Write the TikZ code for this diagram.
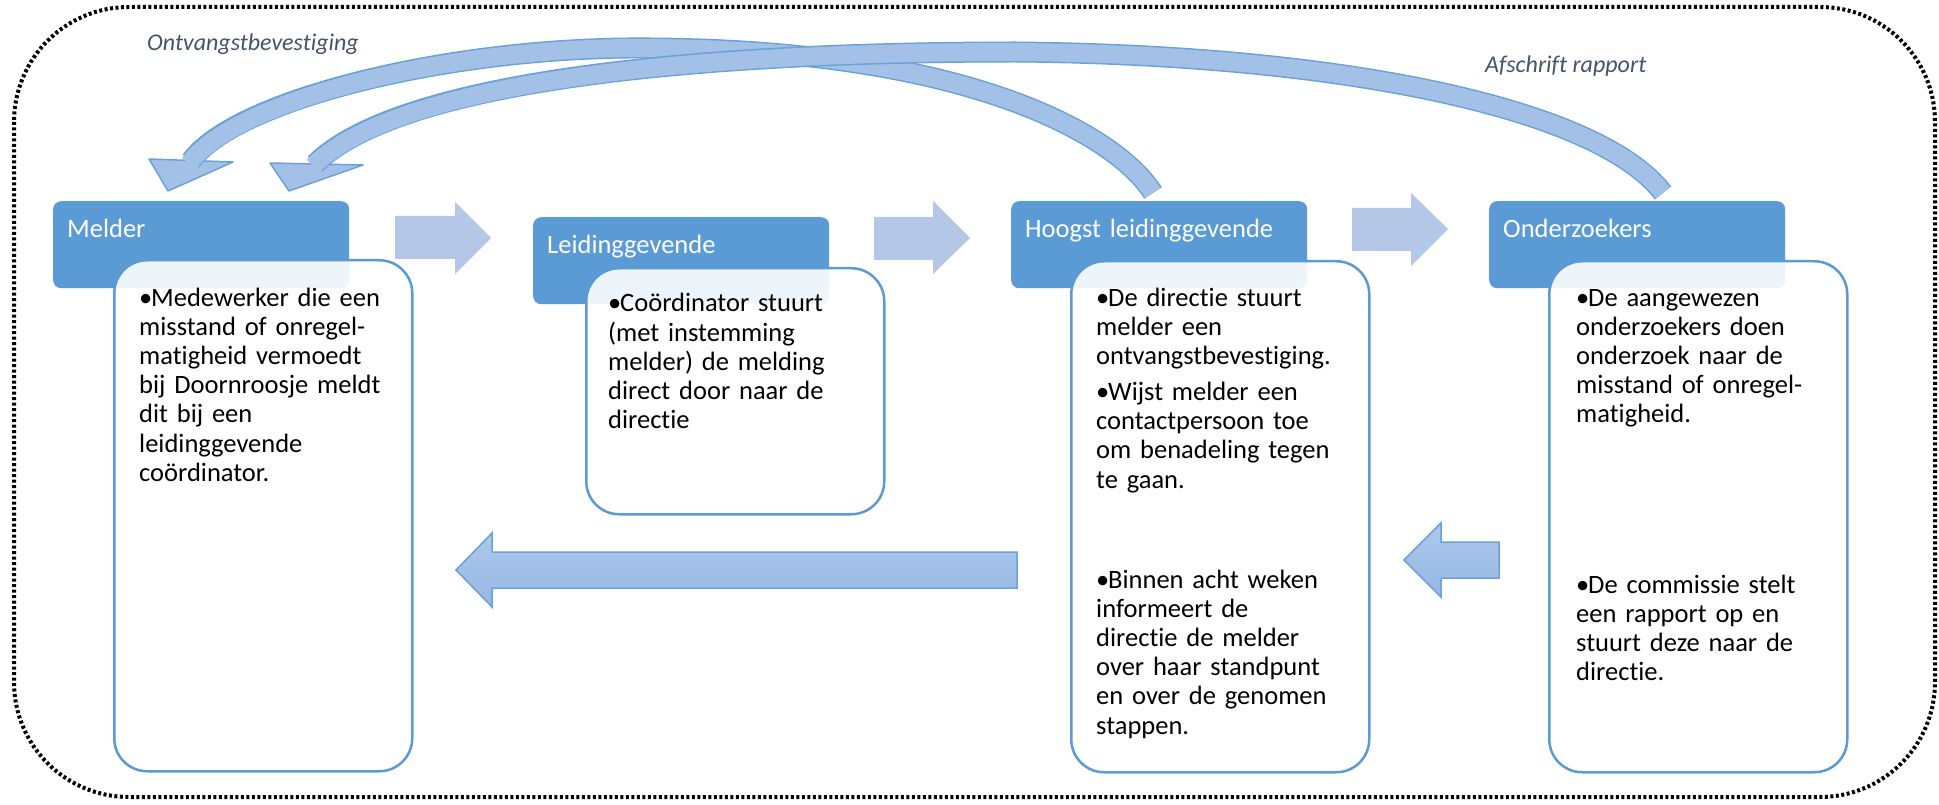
\documentclass[tikz,border=0pt]{standalone}
\usepackage{fontspec}
\setmainfont{Carlito}[Ligatures=NoCommon]
\usepackage{tikz}

\definecolor{kopblauw}{HTML}{5B9BD5}
\definecolor{pijllicht}{HTML}{B4C7E7}
\definecolor{pijlboven}{HTML}{ADC8EB}
\definecolor{pijlonder}{HTML}{95B8E3}
\definecolor{boogvul}{HTML}{A3C1E7}
\definecolor{boogrand}{HTML}{6AA2D8}
\definecolor{labelgrijs}{HTML}{44546A}

\newcommand\opsom[1]{\hangindent=12pt\hangafter=1\noindent\makebox[12pt][l]{\textbullet}#1\par}

\tikzset{
  kop/.style={fill=kopblauw, rounded corners=8pt, text=white, anchor=north west,
    inner xsep=14pt, inner ysep=0pt, text width=268pt, align=left,
    text height=36pt, text depth=51pt, font=\fontsize{26.5}{29}\selectfont},
  vak/.style={draw=kopblauw, line width=2.5pt, fill=white, fill opacity=0.9,
    rounded corners=33pt, anchor=north west, inner sep=0pt, minimum width=298pt},
  tekst/.style={anchor=base west, inner sep=0pt, text width=285pt, align=left,
    font=\fontsize{26.5}{29.2}\selectfont},
  vooruit/.style={fill=pijllicht},
  terug/.style={top color=pijlboven, bottom color=pijlonder, draw=boogrand, line width=1.5pt},
  boogkop/.style={fill=boogvul, draw=boogrand, line width=1.5pt, line join=round},
  boogband/.style={draw=boogvul, line width=18pt, shorten >=-3pt,
    preaction={draw=boogrand, line width=21pt, shorten >=0pt}},
  kader/.style={draw=black, line width=4pt, dash pattern=on 3pt off 2.5pt, rounded corners=115pt},
  bijschrift/.style={anchor=base west, inner sep=0pt, text=labelgrijs,
    font=\fontsize{24}{28}\selectfont\itshape}
}

\begin{document}
\begin{tikzpicture}[x=1pt, y=-1pt]
\useasboundingbox (0,0) rectangle (1939,805);
\draw[kader] (14,7) rectangle (1935,797);

% koppen
\node[kop] (melder) at (53,201) {Melder};
\node[kop] (leiding) at (533,217) {Leidinggevende};
\node[kop] (hoogst) at (1011,201) {Hoogst leidinggevende};
\node[kop] (onderzoek) at (1489,201) {Onderzoekers};

% vakken
\node[vak, minimum height=511pt] (meldervak) at (113,259) {};
\node[vak, minimum height=246pt] (leidingvak) at (585,267) {};
\node[vak, minimum height=511pt] (hoogstvak) at (1070,260) {};
\node[vak, minimum height=511pt] (onderzoekvak) at (1548,260) {};

\node[tekst] (meldertekst) at (139,306) {\opsom{Medewerker die een\\ misstand of onregel-\\ matigheid vermoedt\\ bij Doornroosje meldt\\ dit bij een\\ leidinggevende\\ coördinator.}};
\node[tekst] (leidingtekst) at (608,312) {\opsom{Coördinator stuurt\\ (met instemming\\ melder) de melding\\ direct door naar de\\ directie}};
\node[tekst] (hoogsttekst) at (1096,306) {\opsom{De directie stuurt\\ melder een\\ ontvangstbevestiging.}\vspace{7pt}\opsom{Wijst melder een\\ contactpersoon toe\\ om benadeling tegen\\ te gaan.}};
\node[tekst] (hoogsttekstb) at (1096,588) {\opsom{Binnen acht weken\\ informeert de\\ directie de melder\\ over haar standpunt\\ en over de genomen\\ stappen.}};
\node[tekst] (onderzoektekst) at (1576,306) {\opsom{De aangewezen\\ onderzoekers doen\\ onderzoek naar de\\ misstand of onregel-\\ matigheid.}};
\node[tekst] (onderzoektekstb) at (1576,593) {\opsom{De commissie stelt\\ een rapport op en\\ stuurt deze naar de\\ directie.}};

% pijlen vooruit
\fill[vooruit] (395,216) -- (455,216) -- (455,202) -- (491,238) -- (455,274) -- (455,259) -- (395,259) -- cycle;
\fill[vooruit] (874,217) -- (933,217) -- (933,201) -- (970,238) -- (933,274) -- (933,260) -- (874,260) -- cycle;
\fill[vooruit] (1352,208) -- (1411,208) -- (1411,193) -- (1448,229) -- (1411,266) -- (1411,251) -- (1352,251) -- cycle;

% pijlen terug
\filldraw[terug] (1017,552) -- (492,552) -- (492,533) -- (456,570) -- (492,607) -- (492,588) -- (1017,588) -- cycle;
\filldraw[terug] (1499,542) -- (1441,542) -- (1441,523) -- (1404,560) -- (1441,597) -- (1441,578) -- (1499,578) -- cycle;

% bogen
\coordinate (ontvbegin) at (1153,193);
\coordinate (ontveind) at (191,161);
\coordinate (afschbegin) at (1663,193);
\coordinate (afscheind) at (315,164);
\filldraw[boogkop] (149,159) -- (168,191) -- (233,162) -- cycle;
\draw[boogband] (ontvbegin) .. controls (1120,140) and (980,50) .. (650,48) .. controls (450,46) and (235,100) .. (ontveind);
\filldraw[boogkop] (270,163) -- (289,191) -- (363,165) -- cycle;
\draw[boogband] (afschbegin) .. controls (1600,110) and (1350,55) .. (1016,52) .. controls (700,52) and (400,80) .. (afscheind);

\node[bijschrift] (ontvlabel) at (147,51) {Ontvangstbevestiging};
\node[bijschrift] (afschlabel) at (1485,73) {Afschrift rapport};
\end{tikzpicture}
\end{document}
